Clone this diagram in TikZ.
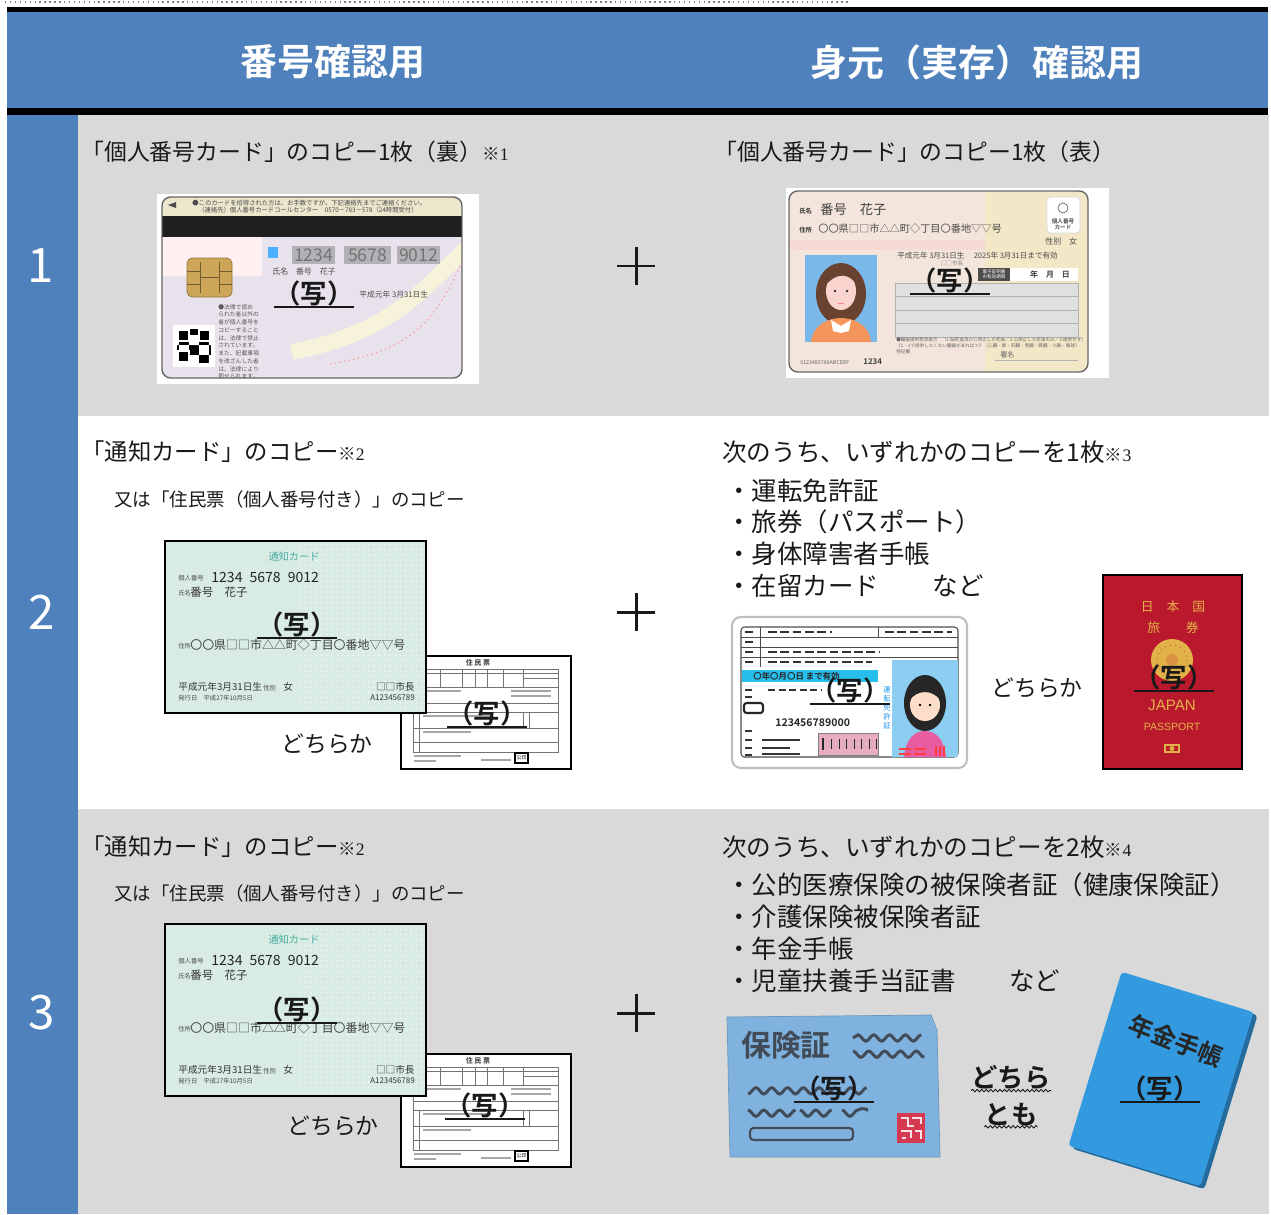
\documentclass[tikz,border=0pt]{standalone}
\usepackage{fontspec}
\setmainfont{Noto Sans CJK JP}[BoldFont={Noto Sans CJK JP Bold}]
\newfontfamily\notenum{Liberation Serif}
\newfontfamily\latinsans{Liberation Sans}
\XeTeXlinebreaklocale "ja"
\usetikzlibrary{decorations.pathmorphing}
\usetikzlibrary{patterns}

\definecolor{headblue}{RGB}{79,129,189}
\definecolor{rowgray}{RGB}{217,217,217}
\definecolor{inkblack}{RGB}{25,25,25}
\definecolor{backlav}{RGB}{232,226,236}
\definecolor{backcream}{RGB}{236,230,205}
\definecolor{swoosh}{RGB}{247,242,218}
\definecolor{chipgold}{RGB}{206,166,88}
\definecolor{numgray}{RGB}{178,178,182}
\definecolor{frontbeige}{RGB}{243,229,219}
\definecolor{photoblue}{RGB}{122,184,234}
\definecolor{hairbrown}{RGB}{105,66,48}
\definecolor{skinpink}{RGB}{250,212,206}
\definecolor{shirtorange}{RGB}{244,150,92}
\definecolor{tsuchigreen}{RGB}{216,236,227}
\definecolor{tsuchiteal}{RGB}{72,172,160}
\definecolor{licensecyan}{RGB}{40,190,235}
\definecolor{licensephoto}{RGB}{140,206,242}
\definecolor{licensepink}{RGB}{232,172,192}
\definecolor{licensebody}{RGB}{232,92,162}
\definecolor{skinpeach}{RGB}{252,222,202}
\definecolor{passred}{RGB}{186,24,44}
\definecolor{passgold}{RGB}{226,178,72}
\definecolor{hokenblue}{RGB}{127,178,222}
\definecolor{hokenink}{RGB}{66,76,88}
\definecolor{sealred}{RGB}{214,58,80}
\definecolor{nenkinblue}{RGB}{52,154,224}

\begin{document}
\begin{tikzpicture}[x=0.02cm, y=-0.02cm,
    every node/.style={inner sep=0pt},
    headtext/.style={text=white, font=\fontsize{21}{24}\selectfont\bfseries},
    rownum/.style={text=white, font=\fontsize{27}{30}\selectfont},
    titletext/.style={anchor=west, text=inkblack, font=\fontsize{13.3}{15}\selectfont},
    subtext/.style={anchor=west, text=inkblack, font=\fontsize{10.5}{12}\selectfont},
    itemtext/.style={anchor=west, text=inkblack, font=\fontsize{14.5}{16}\selectfont},
    eithertext/.style={text=inkblack, font=\fontsize{13}{15}\selectfont},
    bothtext/.style={text=inkblack, font=\fontsize{15}{17}\selectfont\bfseries},
    copymark/.style={text=inkblack, font=\fontsize{15}{17}\selectfont\bfseries,
        minimum width=1.6cm, minimum height=0.56cm},
    copyline/.style={line width=1.2pt, inkblack},
    wavyline/.style={decorate, decoration={snake, amplitude=0.7pt, segment length=2.6pt},
        line width=0.5pt, inkblack},
    plusbar/.style={line width=1.7pt, inkblack},
    cardtiny/.style={text=black!70, font=\fontsize{3.6}{4}\selectfont},
    docline/.style={black!55, line width=0.3pt},
    doctext/.style={black!35, line width=0.6pt},
    licbar/.style={black!80, line width=1.1pt},
    ]

    \useasboundingbox (0,0) rectangle (1271,1214);

    % header band
    \draw[gray, dotted, line width=0.8pt] (5,2) -- (850,2);
    \fill[black] (7,7) rectangle (1268,12);
    \fill[headblue] (7,12) rectangle (1268,108);
    \fill[black] (7,108) rectangle (1268,115);
    \node[headtext] (hNumber) at (333,62) {番号確認用};
    \node[headtext] (hIdentity) at (977,62) {身元（実存）確認用};

    % row backgrounds
    \fill[headblue] (7,115) rectangle (78,1214);
    \fill[rowgray] (78,115) rectangle (1269,416);
    \fill[rowgray] (78,809) rectangle (1269,1214);

    \node[rownum] (rowOne) at (41,266) {1};
    \node[rownum] (rowTwo) at (42,612) {2};
    \node[rownum] (rowThree) at (42,1013) {3};

    % row 1 titles
    \node[titletext, font=\fontsize{13}{15}\selectfont] (titleOneL) at (81,152)
        {「個人番号カード」のコピー1枚（裏）{\fontsize{10}{12}\selectfont ※\notenum 1}};
    \node[titletext, font=\fontsize{13}{15}\selectfont] (titleOneR) at (714,152)
        {「個人番号カード」のコピー1枚（表）};

    % card back
    \fill[white] (157,194) rectangle (479,384);
    \begin{scope}
        \clip[rounded corners=5pt] (162,197) rectangle (462,378);
        \fill[backlav] (162,197) rectangle (462,378);
        \fill[backcream] (162,197) rectangle (462,216);
        \fill[pink!22] (162,237) rectangle (262,276);
        \draw[swoosh, line width=9pt] (470,245) .. controls (420,292) and (392,332) .. (292,352);
        \draw[red!40, line width=0.7pt, dotted] (462,262) .. controls (432,330) and (402,352) .. (330,364);
        \fill[black!88] (162,216) rectangle (462,237);
    \end{scope}
    \draw[black!60, line width=0.8pt, rounded corners=5pt] (162,197) rectangle (462,378);
    \fill[black!70] (168,205) -- (176,202) -- (176,208) -- cycle;
    \node[cardtiny, anchor=west] (cbNoteA) at (192,203)
        {●このカードを拾得された方は、お手数ですが、下記連絡先までご連絡ください。};
    \node[cardtiny, anchor=west] (cbNoteB) at (198,210)
        {（連絡先）個人番号カードコールセンター　0570－783－578（24時間受付）};
    \filldraw[fill=chipgold, draw=chipgold!70!black, line width=0.4pt, rounded corners=3pt]
        (187,258) rectangle (232,297);
    \draw[chipgold!55!black, line width=0.5pt] (187,271) -- (200,271) (187,284) -- (200,284)
        (219,271) -- (232,271) (219,284) -- (232,284) (200,262) -- (200,293)
        (219,262) -- (219,293) (200,277) -- (219,277);
    \fill[blue!45!cyan!70] (268,247) rectangle (278,258);
    \fill[numgray] (292,246) rectangle (335,264);
    \fill[numgray] (344,246) rectangle (391,264);
    \fill[numgray] (397,246) rectangle (440,264);
    \node[text=black!55, font=\fontsize{10}{11}\selectfont] (cbNoA) at (313.5,255) {1234};
    \node[text=black!55, font=\fontsize{10}{11}\selectfont] (cbNoB) at (367.5,255) {5678};
    \node[text=black!55, font=\fontsize{10}{11}\selectfont] (cbNoC) at (418.5,255) {9012};
    \node[anchor=west, text=black!70, font=\fontsize{4.5}{5}\selectfont] (cbName) at (272,271) {氏名　番号　花子};
    \node[anchor=west, text=black!70, font=\fontsize{4.4}{5}\selectfont] (cbBirth) at (359,295) {平成元年 3月31日生};
    \fill[white] (173,325) rectangle (215,367);
    \fill[black] (177,329) rectangle (211,363);
    \fill[pattern=checkerboard, pattern color=white] (177,329) rectangle (211,363);
    \filldraw[fill=black, draw=white, line width=1pt] (178,330) rectangle (189,341);
    \filldraw[fill=black, draw=white, line width=1pt] (199,330) rectangle (210,341);
    \filldraw[fill=black, draw=white, line width=1pt] (178,351) rectangle (189,362);
    \node[anchor=north west, text width=0.86cm, align=left, text=black!65,
        font=\fontsize{3.3}{4.4}\selectfont] (cbLaw) at (218,304)
        {●法律で認められた者以外の者が個人番号をコピーすることは、法律で禁止されています。また、記載事項を改ざんした者は、法律により罰せられます。};

    % card front
    \fill[white] (786,188) rectangle (1109,378);
    \begin{scope}
        \clip[rounded corners=5pt] (789,191) rectangle (1088,372);
        \fill[frontbeige] (789,191) rectangle (1088,372);
        \fill[green!8!yellow!9!frontbeige] (985,191) rectangle (1088,372);
        \fill[pink!30!frontbeige] (789,240) rectangle (985,250);
    \end{scope}
    \draw[black!60, line width=0.8pt, rounded corners=5pt] (789,191) rectangle (1088,372);
    \node[anchor=west, text=black!80, font=\fontsize{3.6}{4}\selectfont\bfseries] (cfNameLab) at (799,211) {氏名};
    \node[anchor=west, text=black!75, font=\fontsize{7.5}{8}\selectfont] (cfName) at (820,210) {番号　花子};
    \node[anchor=west, text=black!80, font=\fontsize{3.6}{4}\selectfont\bfseries] (cfAddrLab) at (799,230) {住所};
    \node[anchor=west, text=black!70, font=\fontsize{5.8}{6}\selectfont] (cfAddr) at (818,229) {〇〇県□□市△△町◇丁目〇番地▽▽号};
    \filldraw[fill=white, draw=black!15, rounded corners=2pt] (1047,197) rectangle (1080,233);
    \draw[black!60, line width=0.4pt] (1063,208) circle (5);
    \node[text=black!70, font=\fontsize{3.2}{3.6}\selectfont\bfseries, align=center] (cfLogo) at (1063,224) {個人番号\\カード};
    \node[anchor=west, text=black!70, font=\fontsize{4.5}{5}\selectfont] (cfSex) at (1045,242) {性別　女};
    \node[anchor=west, text=black!70, font=\fontsize{4.3}{5}\selectfont] (cfDates) at (897,256)
        {平成元年 3月31日生　 2025年 3月31日まで有効};
    \node[text=black!45, font=\fontsize{3.2}{4}\selectfont] (cfMayor) at (952,263) {□□市長};
    \fill[black!70] (978,268) rectangle (1010,281);
    \node[text=white, font=\fontsize{2.6}{3}\selectfont, align=center] (cfBox) at (994,274.5) {電子証明書\\の有効期限};
    \fill[white] (1010,268) rectangle (1078,281);
    \node[text=black!75, font=\fontsize{4.5}{5}\selectfont\bfseries] (cfYmd) at (1050,274.5) {年　月　日};
    \filldraw[fill=black!12, draw=black!30, line width=0.3pt] (895,283) rectangle (1078,337);
    \draw[black!30, line width=0.3pt] (895,296) -- (1078,296) (895,310) -- (1078,310) (895,323) -- (1078,323);
    \node[anchor=west, text=black!60, font=\fontsize{2.6}{3.4}\selectfont, align=left] (cfDonor) at (896,346)
        {●臓器提供意思表示　〔1.脳死後及び心停止した死後／2.心停止した死後のみ／3.提供せず〕\\
         《1・2で提供したくない臓器があれば×》〔心臓・肺・肝臓・腎臓・膵臓・小腸・眼球〕\\
         特記欄};
    \node[anchor=west, text=black!60, font=\fontsize{4}{5}\selectfont] (cfSign) at (1000,355) {署名};
    \draw[black!30, line width=0.3pt] (995,360) -- (1078,360);
    \node[anchor=west, text=black!60, font=\fontsize{3}{4}\selectfont] (cfSerial) at (800,363) {0123456789ABCDEF};
    \node[anchor=west, text=black!75, font=\fontsize{4.5}{5}\selectfont\bfseries] (cfPin) at (863,362) {1234};
    \fill[photoblue] (805,255) rectangle (877,342);
    \fill[hairbrown] (841,294) ellipse (25 and 31);
    \fill[shirtorange] (811,342) .. controls (813,324) and (829,318) .. (841,318)
        .. controls (853,318) and (869,324) .. (871,342) -- cycle;
    \fill[skinpink] (841,291) ellipse (15 and 19);
    \fill[white] (831,320) -- (841,326) -- (851,320) -- (849,331) -- (841,333) -- (833,331) -- cycle;
    \fill[hairbrown] (825,286) .. controls (828,264) and (852,262) .. (858,287)
        .. controls (850,272) and (836,272) .. (825,286) -- cycle;
    \fill[black!80] (835,291) circle (1.4) (847,291) circle (1.4);
    \draw[red!50, line width=0.5pt] (838,303) -- (844,303);

    % row 2 titles
    \node[titletext] (titleTwoL) at (81,452) {「通知カード」のコピー{\fontsize{10}{12}\selectfont ※\notenum 2}};
    \node[subtext] (subTwoL) at (114,499) {又は「住民票（個人番号付き）」のコピー};
    \node[titletext, font=\fontsize{14}{16}\selectfont] (titleTwoR) at (722,452)
        {次のうち、いずれかのコピーを1枚{\fontsize{10}{12}\selectfont ※\notenum 3}};
    \node[itemtext] (itemTwoA) at (726,491) {・運転免許証};
    \node[itemtext] (itemTwoB) at (726,522) {・旅券（パスポート）};
    \node[itemtext] (itemTwoC) at (726,554) {・身体障害者手帳};
    \node[itemtext] (itemTwoD) at (726,586) {・在留カード\hspace{2.1em}など};

    % resident record, row 2
    \begin{scope}[shift={(401,656)}]
        \filldraw[fill=white, draw=black, line width=1.4pt] (0,0) rectangle (170,113);
        \node[text=black!80, font=\fontsize{4}{5}\selectfont\bfseries] (jmTitleB) at (77,7) {住\ 民\ 票};
        \draw[docline] (12,13) rectangle (157,96);
        \draw[docline] (12,17) -- (157,17) (12,31) -- (157,31) (12,47) -- (157,47)
            (12,56) -- (157,56) (12,72) -- (157,72) (12,86) -- (157,86);
        \draw[docline] (39,13) -- (39,31) (61,13) -- (61,31) (74,13) -- (74,31)
            (86,13) -- (86,31) (102,13) -- (102,31) (122,13) -- (122,31) (122,22) -- (157,22);
        \draw[docline] (18,56) -- (18,96) (122,56) -- (122,72) (128,56) -- (128,72);
        \draw[doctext] (16,35) -- (60,35) (110,35) -- (150,35) (110,40) -- (150,40)
            (22,60) -- (90,60) (22,76) -- (70,76) (13,100) -- (60,100) (13,105) -- (35,105)
            (80,104) -- (110,104);
        \draw[black, line width=0.8pt] (114,97) rectangle (127,107);
        \node[text=black, font=\fontsize{2.8}{3}\selectfont] (jmSealB) at (120.5,102) {公印};
    \end{scope}

    % notification card, row 2
    \filldraw[fill=tsuchigreen, draw=black, line width=1.4pt] (165,541) rectangle (426,713);
    \fill[pattern=dots, pattern color=white!75!tsuchigreen] (300,543) rectangle (424,711);
    \node[text=tsuchiteal, font=\fontsize{5.8}{7}\selectfont] (ncTitleB) at (294,557) {通知カード};
    \node[cardtiny, anchor=west] (ncNoLabB) at (178,578) {個人番号};
    \node[anchor=west, text=black!85, font=\fontsize{8}{9}\selectfont] (ncNoB) at (211,577) {1234\enspace5678\enspace9012};
    \node[cardtiny, anchor=west] (ncNameLabB) at (178,593) {氏名};
    \node[anchor=west, text=black!80, font=\fontsize{6.5}{7}\selectfont] (ncNameB) at (190,592) {番号　花子};
    \node[cardtiny, anchor=west] (ncAddrLabB) at (178,646) {住所};
    \node[anchor=west, text=black!75, font=\fontsize{6.8}{8}\selectfont] (ncAddrB) at (190,645) {〇〇県□□市△△町◇丁目〇番地▽▽号};
    \node[anchor=west, text=black!80, font=\fontsize{5.5}{6}\selectfont] (ncBirthB) at (178,687) {平成元年3月31日生};
    \node[cardtiny, anchor=west] (ncSexLabB) at (263,688) {性別};
    \node[anchor=west, text=black!80, font=\fontsize{5.5}{6}\selectfont] (ncSexB) at (283,687) {女};
    \node[cardtiny, anchor=west] (ncIssueB) at (178,698) {発行日　平成27年10月5日};
    \node[anchor=east, text=black!80, font=\fontsize{5.5}{6}\selectfont] (ncMayorB) at (415,687) {□□市長};
    \node[anchor=east, text=black!80, font=\fontsize{4.5}{5}\selectfont] (ncIdB) at (415,698) {A123456789};
    \node[eithertext] (eitherTwoL) at (327,744) {どちらか};

    % driving licence
    \filldraw[fill=white, draw=black!25, line width=1.2pt, rounded corners=5pt] (732,617) rectangle (967,768);
    \draw[black!70, line width=0.6pt, rounded corners=2pt] (741,627) rectangle (958,757);
    \draw[black!70, line width=0.5pt] (741,637) -- (958,637) (741,647) -- (958,647) (741,657) -- (958,657)
        (760,627) -- (760,667) (878,627) -- (878,637);
    \draw[licbar] (745,632) -- (753,632) (745,642) -- (753,642) (745,652) -- (753,652) (745,662) -- (753,662);
    \draw[licbar, dash pattern=on 5pt off 2pt] (768,632) -- (832,632) (885,632) -- (952,632)
        (768,652) -- (880,652) (768,662) -- (872,662);
    \fill[licensecyan] (742,670) rectangle (878,682);
    \node[anchor=west, text=black!85, font=\fontsize{4.8}{5}\selectfont\bfseries] (lcLimit) at (753,676) {〇年〇月〇日 まで有効};
    \draw[licbar] (745,690) -- (752,690) (745,697) -- (752,697);
    \draw[licbar, dash pattern=on 4pt off 2pt] (768,690) -- (822,690);
    \draw[black!85, line width=1.2pt, rounded corners=1.5pt] (744,703) rectangle (763,713);
    \node[anchor=west, text=black!85, font=\fontsize{6}{7}\selectfont\bfseries] (lcNumber) at (775,723) {123456789000};
    \draw[licbar] (745,731) -- (752,731) (745,740) -- (752,740) (745,748) -- (752,748) (745,755) -- (752,755);
    \draw[licbar] (762,740) -- (800,740) (762,748) -- (790,748) (762,754) -- (800,754);
    \filldraw[fill=licensepink, draw=black!50, line width=0.4pt] (818,733) rectangle (878,755);
    \draw[black!85, line width=1pt] (823,738) -- (823,750);
    \draw[black!85, line width=5.5pt, dash pattern=on 0.7pt off 3.6pt] (831,744) -- (877,744);
    \node[text=licensecyan!80!blue, font=\fontsize{4.2}{5.2}\selectfont, align=center] (lcVert) at (887,708) {運\\転\\免\\許\\証};
    \fill[licensephoto] (892,660) rectangle (958,757);
    \fill[black!85] (925,703) ellipse (21 and 28);
    \fill[licensebody] (904,757) .. controls (906,738) and (915,731) .. (925,731)
        .. controls (935,731) and (944,738) .. (946,757) -- cycle;
    \fill[skinpeach] (925,705) ellipse (15 and 16);
    \fill[black!85] (909,701) .. controls (911,680) and (939,680) .. (941,701)
        .. controls (933,689) and (917,689) .. (909,701) -- cycle;
    \fill[black] (920,705) circle (1.3) (930,705) circle (1.3);
    \draw[red!75, line width=1.4pt] (899,749) -- (911,749) (899,754) -- (911,754)
        (914,749) -- (926,749) (914,754) -- (926,754)
        (936,746) -- (936,756) (940,746) -- (940,756) (944,746) -- (944,756);
    \node[eithertext] (eitherTwoR) at (1037,688) {どちらか};

    % passport
    \filldraw[fill=passred, draw=black, line width=1.5pt] (1103,575) rectangle (1242,769);
    \node[text=passgold, font=\fontsize{7.3}{8}\selectfont] (ppCountry) at (1173,607) {日　本　国};
    \node[text=passgold, font=\fontsize{7.3}{8}\selectfont] (ppTitle) at (1173,628) {旅　　券};
    \fill[passgold] (1172,660) circle (21);
    \draw[passred!60!passgold, line width=0.5pt, dash pattern=on 0.6pt off 2.4pt] (1172,660) circle (15);
    \fill[passgold!80!passred] (1172,660) circle (6);
    \node[text=passgold, font=\latinsans\fontsize{8.6}{9}\selectfont] (ppJapan) at (1172,705) {JAPAN};
    \node[text=passgold, font=\latinsans\fontsize{6}{7}\selectfont] (ppPassport) at (1172,727) {PASSPORT};
    \draw[passgold, line width=0.8pt] (1165,745) rectangle (1179,752);
    \fill[passgold] (1172,748.5) circle (2.5);

    % row 3 titles
    \node[titletext] (titleThreeL) at (81,847) {「通知カード」のコピー{\fontsize{10}{12}\selectfont ※\notenum 2}};
    \node[subtext] (subThreeL) at (114,893) {又は「住民票（個人番号付き）」のコピー};
    \node[titletext, font=\fontsize{14}{16}\selectfont] (titleThreeR) at (722,847)
        {次のうち、いずれかのコピーを2枚{\fontsize{10}{12}\selectfont ※\notenum 4}};
    \node[itemtext] (itemThreeA) at (726,885) {・公的医療保険の被保険者証（健康保険証）};
    \node[itemtext] (itemThreeB) at (726,917) {・介護保険被保険者証};
    \node[itemtext] (itemThreeC) at (726,949) {・年金手帳};
    \node[itemtext] (itemThreeD) at (726,981) {・児童扶養手当証書\hspace{2.1em}など};

    % resident record, row 3
    \begin{scope}[shift={(401,1054)}]
        \filldraw[fill=white, draw=black, line width=1.4pt] (0,0) rectangle (170,113);
        \node[text=black!80, font=\fontsize{4}{5}\selectfont\bfseries] (jmTitleC) at (77,7) {住\ 民\ 票};
        \draw[docline] (12,13) rectangle (157,96);
        \draw[docline] (12,17) -- (157,17) (12,31) -- (157,31) (12,47) -- (157,47)
            (12,56) -- (157,56) (12,72) -- (157,72) (12,86) -- (157,86);
        \draw[docline] (39,13) -- (39,31) (61,13) -- (61,31) (74,13) -- (74,31)
            (86,13) -- (86,31) (102,13) -- (102,31) (122,13) -- (122,31) (122,22) -- (157,22);
        \draw[docline] (18,56) -- (18,96) (122,56) -- (122,72) (128,56) -- (128,72);
        \draw[doctext] (16,35) -- (60,35) (110,35) -- (150,35) (110,40) -- (150,40)
            (22,60) -- (90,60) (22,76) -- (70,76) (13,100) -- (60,100) (13,105) -- (35,105)
            (80,104) -- (110,104);
        \draw[black, line width=0.8pt] (114,97) rectangle (127,107);
        \node[text=black, font=\fontsize{2.8}{3}\selectfont] (jmSealC) at (120.5,102) {公印};
    \end{scope}

    % notification card, row 3
    \begin{scope}[shift={(0,383)}]
        \filldraw[fill=tsuchigreen, draw=black, line width=1.4pt] (165,541) rectangle (426,713);
        \fill[pattern=dots, pattern color=white!75!tsuchigreen] (300,543) rectangle (424,711);
        \node[text=tsuchiteal, font=\fontsize{5.8}{7}\selectfont] (ncTitleC) at (294,557) {通知カード};
        \node[cardtiny, anchor=west] (ncNoLabC) at (178,578) {個人番号};
        \node[anchor=west, text=black!85, font=\fontsize{8}{9}\selectfont] (ncNoC) at (211,577) {1234\enspace5678\enspace9012};
        \node[cardtiny, anchor=west] (ncNameLabC) at (178,593) {氏名};
        \node[anchor=west, text=black!80, font=\fontsize{6.5}{7}\selectfont] (ncNameC) at (190,592) {番号　花子};
        \node[cardtiny, anchor=west] (ncAddrLabC) at (178,646) {住所};
        \node[anchor=west, text=black!75, font=\fontsize{6.8}{8}\selectfont] (ncAddrC) at (190,645) {〇〇県□□市△△町◇丁目〇番地▽▽号};
        \node[anchor=west, text=black!80, font=\fontsize{5.5}{6}\selectfont] (ncBirthC) at (178,687) {平成元年3月31日生};
        \node[cardtiny, anchor=west] (ncSexLabC) at (263,688) {性別};
        \node[anchor=west, text=black!80, font=\fontsize{5.5}{6}\selectfont] (ncSexC) at (283,687) {女};
        \node[cardtiny, anchor=west] (ncIssueC) at (178,698) {発行日　平成27年10月5日};
        \node[anchor=east, text=black!80, font=\fontsize{5.5}{6}\selectfont] (ncMayorC) at (415,687) {□□市長};
        \node[anchor=east, text=black!80, font=\fontsize{4.5}{5}\selectfont] (ncIdC) at (415,698) {A123456789};
    \end{scope}
    \node[eithertext] (eitherThreeL) at (333,1126) {どちらか};

    % health insurance card
    \filldraw[fill=hokenblue, draw=hokenblue!85!black, line width=0.4pt]
        (727,1017) -- (931,1015) -- (937,1030) -- (940,1157) -- (730,1157) -- cycle;
    \node[text=hokenink, font=\fontsize{17}{19}\selectfont\bfseries] (hkTitle) at (786,1045) {保険証};
    \draw[hokenink, line width=1.7pt, decorate, decoration={snake, amplitude=1.8pt, segment length=9pt}]
        (853,1038) -- (921,1038) (853,1051) -- (921,1051) (748,1094) -- (866,1094)
        (748,1110) -- (792,1110) (800,1110) -- (834,1110) (842,1110) -- (868,1110);
    \draw[hokenink, line width=1.2pt, rounded corners=2pt] (750,1128) rectangle (853,1140);
    \fill[sealred] (897,1113) rectangle (925,1143);
    \draw[white!85!sealred, line width=0.8pt] (901,1118) -- (908,1118) -- (908,1126) -- (914,1126)
        (912,1118) -- (921,1118) -- (921,1124) (901,1131) -- (911,1131) -- (911,1138)
        (915,1131) -- (921,1131) -- (921,1139) (902,1138) -- (906,1138);

    \node[bothtext] (bothA) at (1011,1078) {どちら};
    \node[bothtext] (bothB) at (1011,1115) {とも};
    \draw[wavyline] (bothA.south west) -- (bothA.south east);
    \draw[wavyline] (bothB.south west) -- (bothB.south east);

    % pension book
    \node[fill=nenkinblue!70!black, rotate=-17, minimum width=2.76cm, minimum height=3.64cm,
        rounded corners=2pt] (nkEdge) at (1165,1082) {};
    \node[fill=nenkinblue, rotate=-17, minimum width=2.76cm, minimum height=3.64cm,
        rounded corners=2pt] (nkBook) at (1161,1079) {};
    \node[rotate=-22, text=black!85, font=\fontsize{14}{16}\selectfont\bfseries] (nkTitle) at (1176,1041) {年金手帳};

    % copy marks
    \node[copymark] (copyA) at (314,293) {（写）};
    \node[copymark] (copyB) at (950,280) {（写）};
    \node[copymark] (copyC) at (297,624) {（写）};
    \node[copymark] (copyD) at (487,713) {（写）};
    \node[copymark] (copyE) at (850,690) {（写）};
    \node[copymark] (copyF) at (1174,677) {（写）};
    \node[copymark] (copyG) at (297,1009) {（写）};
    \node[copymark] (copyH) at (485,1105) {（写）};
    \node[copymark] (copyI) at (834,1088) {（写）};
    \node[copymark] (copyJ) at (1160,1088) {（写）};
    \draw[copyline] (copyA.south west) -- (copyA.south east);
    \draw[copyline] (copyB.south west) -- (copyB.south east);
    \draw[copyline] (copyC.south west) -- (copyC.south east);
    \draw[copyline] (copyD.south west) -- (copyD.south east);
    \draw[copyline] (copyE.south west) -- (copyE.south east);
    \draw[copyline] (copyF.south west) -- (copyF.south east);
    \draw[copyline] (copyG.south west) -- (copyG.south east);
    \draw[copyline] (copyH.south west) -- (copyH.south east);
    \draw[copyline] (copyI.south west) -- (copyI.south east);
    \draw[copyline] (copyJ.south west) -- (copyJ.south east);

    % plus signs
    \draw[plusbar] (617,266) -- (655,266) (636,247) -- (636,285);
    \draw[plusbar] (617,612) -- (655,612) (636,593) -- (636,631);
    \draw[plusbar] (617,1013) -- (655,1013) (636,994) -- (636,1032);

\end{tikzpicture}
\end{document}
